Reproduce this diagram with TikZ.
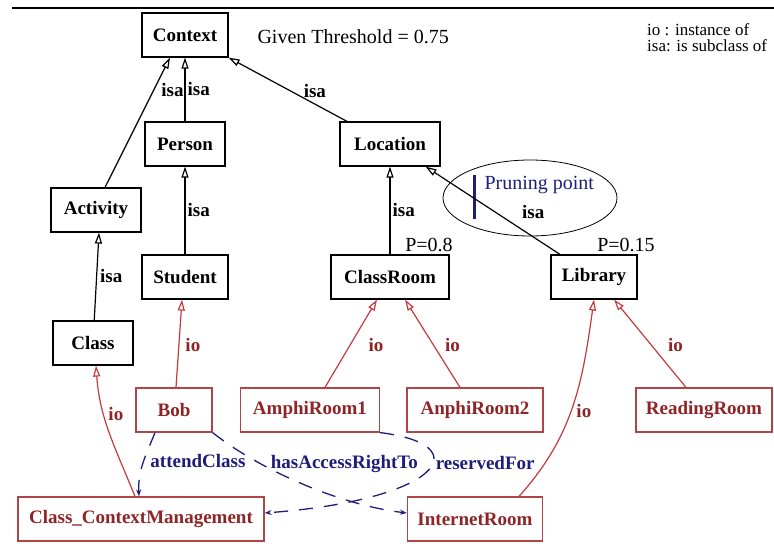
\documentclass[tikz,border=0pt]{standalone}
\usepackage{fontspec}
\setmainfont{Liberation Serif}
\usepackage{tikz}
\usetikzlibrary{arrows.meta,shapes.geometric}
\definecolor{ioline}{HTML}{C63A3E}
\definecolor{instred}{HTML}{8E2426}
\definecolor{instframe}{HTML}{B04446}
\definecolor{relnavy}{HTML}{1E1E7A}

\begin{document}
\begin{tikzpicture}[
  x=1pt,y=1pt,
  font=\fontsize{20}{23}\selectfont,
  classnode/.style={rectangle,draw=black,line width=1.2pt,fill=white,minimum height=44pt,inner sep=0pt,font=\fontsize{19}{22}\selectfont\bfseries},
  instnode/.style={classnode,draw=instframe,text=instred},
  isa/.style={-{Triangle[open,length=11pt,width=7pt]},line width=1.2pt,black},
  io/.style={-{Triangle[open,length=11pt,width=7pt]},line width=1.2pt,ioline},
  rel/.style={-{Stealth[length=7pt,width=5pt]},line width=1.3pt,relnavy,dash pattern=on 14pt off 11pt},
  isalabel/.style={font=\fontsize{19}{22}\selectfont\bfseries,inner sep=1pt},
  iolabel/.style={isalabel,text=instred},
  rellabel/.style={isalabel,text=relnavy},
]
\useasboundingbox (0,0) rectangle (774,-548);
\draw[line width=2.5pt] (12,-8) -- (774,-8);

% Class hierarchy
\node[classnode,minimum width=86pt]  (context)   at (185,-35)  {Context};
\node[classnode,minimum width=80pt]  (person)    at (185,-144) {Person};
\node[classnode,minimum width=100pt] (location)  at (390,-144) {Location};
\node[classnode,minimum width=90pt]  (activity)  at (96,-210)  {Activity};
\node[classnode,minimum width=86pt]  (student)   at (185,-277) {Student};
\node[classnode,minimum width=118pt] (classroom) at (390,-277) {ClassRoom};
\node[classnode,minimum width=86pt]  (library)   at (594,-277) {Library};
\node[classnode,minimum width=80pt]  (class)     at (93,-343)  {Class};

% Instances
\node[instnode,minimum width=76pt]  (bob)      at (174,-410) {Bob};
\node[instnode,minimum width=139pt] (amphi1)   at (310,-410) {AmphiRoom1};
\node[instnode,minimum width=136pt] (amphi2)   at (475,-410) {AnphiRoom2};
\node[instnode,minimum width=136pt] (readroom) at (704,-410) {ReadingRoom};
\node[instnode,minimum width=246pt] (ccm)      at (141,-519) {Class\_ContextManagement};
\node[instnode,minimum width=135pt] (inetroom) at (475,-519) {InternetRoom};

% Notes
\node[anchor=west] (threshold) at (254,-37) {Given Threshold = 0.75};
\node[anchor=north west,align=left,inner sep=0pt,font=\fontsize{17}{16}\selectfont] (legend) at (647,-23) {io : instance of\\isa: is subclass of};
\node[anchor=base] (pclassroom) at (429,-252) {P=0.8};
\node[anchor=base] (plibrary)   at (626,-252) {P=0.15};

% Pruning point
\node[draw,ellipse,line width=0.8pt,minimum width=174pt,minimum height=76pt] (prune) at (530,-198) {};
\node[anchor=west,text=relnavy] (prunetext) at (481,-185) {Pruning point};
\draw[relnavy,line width=3pt] (474,-175) -- (474,-219);

% isa links
\draw[isa] ([xshift=9pt]activity.north) -- node[isalabel,pos=0.75,right=6pt]{isa} ([xshift=-15pt]context.south);
\draw[isa] (person) -- node[isalabel,right=1pt]{isa} (context);
\draw[isa] ([xshift=-43pt]location.north) -- node[isalabel,pos=0.48,right=12pt]{isa} (context.south east);
\draw[isa] (student) -- node[isalabel,right=1pt]{isa} (person);
\draw[isa] (class) -- node[isalabel,right=2pt]{isa} ([xshift=3pt]activity.south);
\draw[isa] (classroom) -- node[isalabel,right=1pt]{isa} (location);
\draw[isa] ([xshift=-34pt]library.north) -- node[isalabel,pos=0.48,right=25pt]{isa} ([xshift=-15pt]location.south east);

% io links
\draw[io] ([xshift=2pt]bob.north) -- node[iolabel,pos=0.48,right=5pt]{io} ([xshift=-3pt]student.south);
\draw[io] ([xshift=-6pt]ccm.north) to[out=112,in=-86] node[iolabel,pos=0.65,right=3pt]{io} ([xshift=3pt]class.south);
\draw[io] ([xshift=15pt]amphi1.north) -- node[iolabel,pos=0.48,right=17pt]{io} ([xshift=-13pt]classroom.south);
\draw[io] ([xshift=-15pt]amphi2.north) -- node[iolabel,pos=0.48,right=10pt]{io} ([xshift=15pt]classroom.south);
\draw[io] ([xshift=44pt]inetroom.north) to[out=48,in=-98] node[iolabel,pos=0.47,right=4pt]{io} (library.south);
\draw[io] ([xshift=-18pt]readroom.north) -- node[iolabel,pos=0.48,right=15pt]{io} ([xshift=20pt]library.south);

% object properties
\draw[rel] ([xshift=-19pt]bob.south) to[out=-112,in=93] node[rellabel,pos=0.45,right=5pt]{attendClass} ([xshift=-2pt]ccm.north);
\draw[rel] (bob.south east) .. controls (260,-470) and (340,-505) .. node[rellabel,pos=0.7,above=25pt]{hasAccessRightTo} ([yshift=6pt]inetroom.west);
\draw[rel] (amphi1.south east) .. controls (480,-445) and (440,-500) .. node[rellabel,pos=0.4,right=1pt]{reservedFor} ([yshift=6pt]ccm.east);
\end{tikzpicture}
\end{document}
